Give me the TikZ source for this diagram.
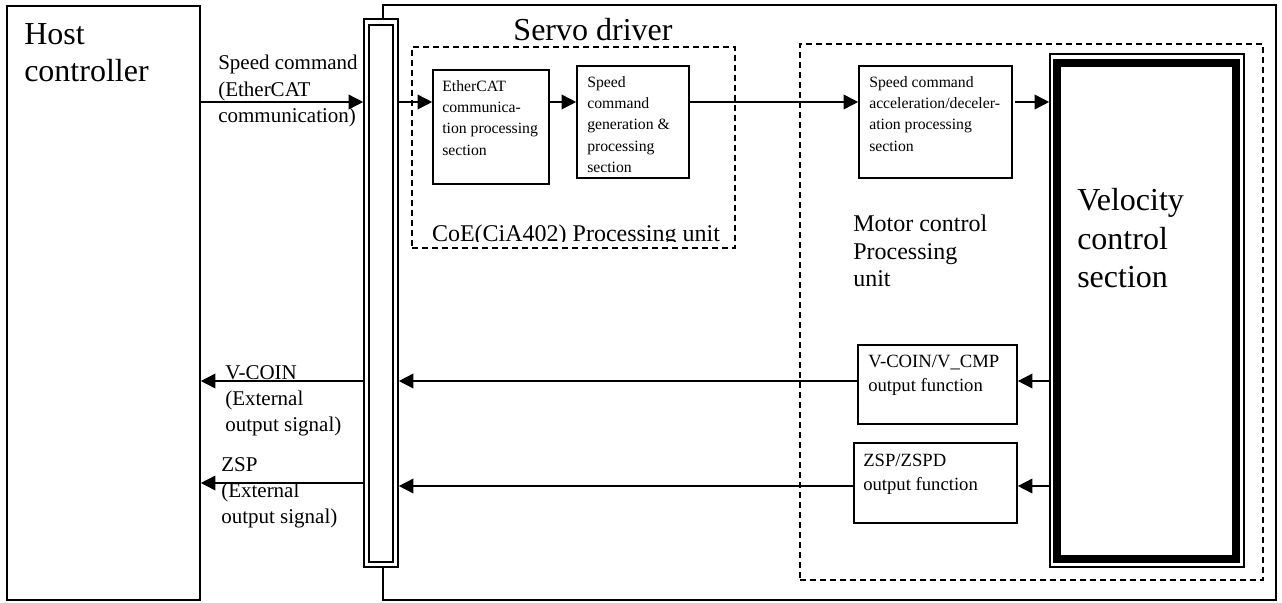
\documentclass[tikz,border=0pt]{standalone}
\usepackage{fontspec}
\setmainfont{Liberation Serif}
\usetikzlibrary{arrows.meta,fit}
\newcommand{\bigfont}{\fontsize{24}{27.75}\selectfont}
\newcommand{\midfont}{\fontsize{18}{20.6}\selectfont}
\newcommand{\lblfont}{\fontsize{15.75}{19.75}\selectfont}
\newcommand{\outfont}{\fontsize{14}{18}\selectfont}
\newcommand{\smallfont}{\fontsize{11.8}{16}\selectfont}

\begin{document}
\begin{tikzpicture}[x=0.75pt,y=-0.75pt,
    blk/.style={draw,line width=1.2pt,inner sep=0pt},
    dbox/.style={draw,line width=1.2pt,dash pattern=on 4.5pt off 3pt,inner sep=0pt},
    arr/.style={line width=1.2pt,-{Triangle[length=11pt,width=11pt]}},
    txt/.style={anchor=north west,inner sep=0pt,align=left}]
    \useasboundingbox (0,0) rectangle (1282,603);
    % outer frames
    \node[blk,fit={(7,6) (200,600)}] (host) {};
    \node[blk,fit={(383,5) (1276,600)}] (servo) {};
    \node[blk,fill=white,fit={(364,19) (398,567)}] (bus) {};
    \node[blk,fit={(369,25) (393,562)}] (busin) {};
    \node[dbox,fit={(412,47) (735,248)}] (coe) {};
    \node[dbox,fit={(800,44) (1263,580)}] (motor) {};
    % blocks
    \node[blk,fit={(433,70) (549,184)}] (ecat) {};
    \node[blk,fit={(577,66) (689,178)}] (gen) {};
    \node[blk,fit={(859,66) (1012,178)}] (accel) {};
    \node[blk,fit={(1050,54) (1244,567)}] (vel) {};
    \draw[line width=5.5pt] (1057,63) rectangle (1236,559);
    \node[blk,fit={(858,345) (1017,424)}] (vcoin) {};
    \node[blk,fit={(854,443) (1017,523)}] (zsp) {};
    % texts
    \node[txt,font=\bigfont] (hosttxt) at (24,23) {Host\\controller};
    \node[anchor=north,inner sep=0pt,font=\bigfont] (servotxt) at (593,18) {Servo driver};
    \node[txt,font=\lblfont] (cmdtxt) at (218,55) {Speed command\\(EtherCAT\\communication)};
    \node[txt,font=\smallfont] (ecattxt) at (442,80) {EtherCAT\\communica-\\tion processing\\section};
    \node[txt,font=\smallfont] (gentxt) at (587,76) {Speed\\command\\generation \&\\processing\\section};
    \node[txt,font=\smallfont] (acceltxt) at (869,76) {Speed command\\acceleration/deceler-\\ation processing\\section};
    \begin{scope}
      \clip (412,200) rectangle (735,241);
      \node[anchor=base,inner sep=0pt,font=\midfont] (coetxt) at (576,241) {CoE(CiA402) Processing unit};
    \end{scope}
    \node[txt,font=\midfont] (motortxt) at (853,215) {Motor control\\Processing\\unit};
    \node[txt,font=\bigfont] (veltxt) at (1077,188) {Velocity\\[1.2pt]control\\[1.2pt]section};
    \node[txt,font=\outfont] (vcointxt) at (868,355) {V-COIN/V\_CMP\\output function};
    \node[txt,font=\outfont] (zsptxt) at (863,454) {ZSP/ZSPD\\output function};
    \node[txt,font=\lblfont] (vcoinlbl) at (225,365) {V-COIN\\(External\\output signal)};
    \node[txt,font=\lblfont] (zsplbl) at (221,457) {ZSP\\(External\\output signal)};
    % connectors
    \coordinate (r1) at (0,102);
    \coordinate (r2) at (0,381);
    \coordinate (r3) at (0,486);
    \coordinate (r4) at (0,483);
    \draw[arr] (host.east|-r1) -- (bus.west|-r1);
    \draw[arr] (bus.east|-r1) -- (ecat.west|-r1);
    \draw[arr] (ecat.east|-r1) -- (gen.west|-r1);
    \draw[arr] (gen.east|-r1) -- (accel.west|-r1);
    \draw[arr] ([xshift=2pt]accel.east|-r1) -- (vel.west|-r1);
    \draw[arr] (vel.west|-r2) -- (vcoin.east|-r2);
    \draw[arr] (vcoin.west|-r2) -- (bus.east|-r2);
    \draw[arr] (bus.west|-r2) -- (host.east|-r2);
    \draw[arr] (vel.west|-r3) -- (zsp.east|-r3);
    \draw[arr] (zsp.west|-r3) -- (bus.east|-r3);
    \draw[arr] (bus.west|-r4) -- (host.east|-r4);
\end{tikzpicture}
\end{document}
